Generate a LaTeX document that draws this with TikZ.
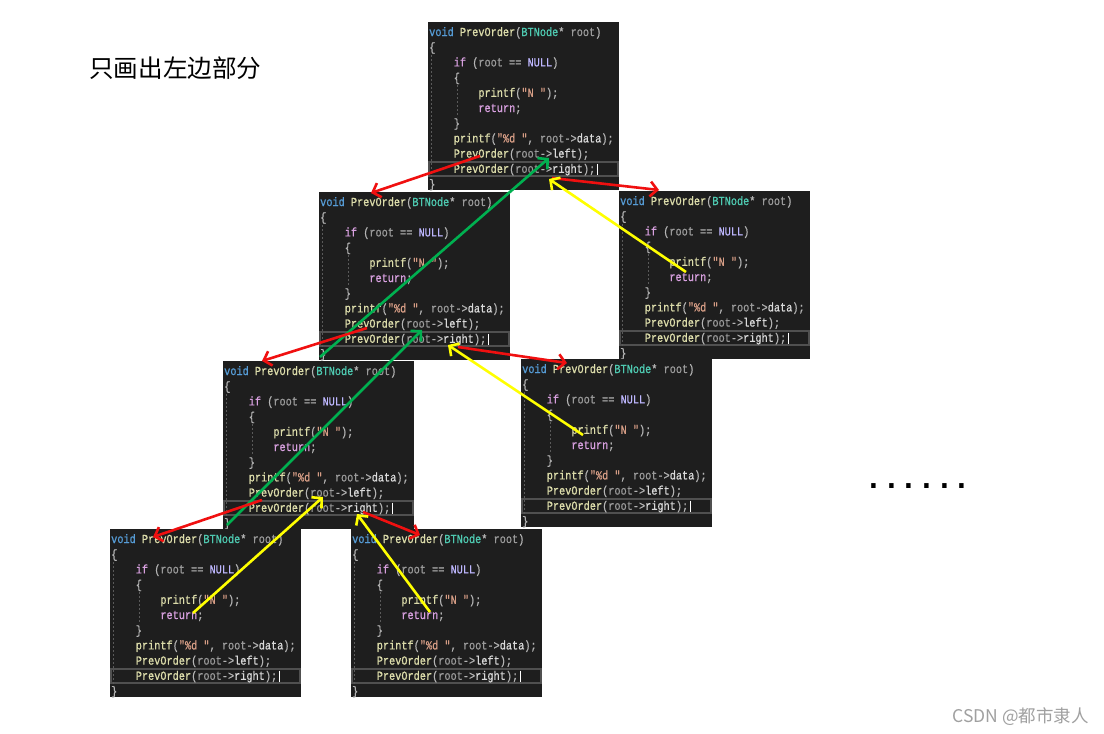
\documentclass[tikz,border=0pt]{standalone}
\usepackage{fontspec}
\usetikzlibrary{arrows.meta}
\newfontfamily\codefont[FakeStretch=0.833,FakeBold=0.8,Ligatures=TeXOff]{Liberation Mono}
\newfontfamily\cjkfont{Noto Sans CJK SC}
\newfontfamily\dotfont{Liberation Sans}
\definecolor{codebg}{HTML}{1E1E1E}
\definecolor{ckw}{HTML}{569CD6}
\definecolor{cfn}{HTML}{DCDCAA}
\definecolor{cty}{HTML}{4EC9B0}
\definecolor{cpu}{HTML}{B4B4B4}
\definecolor{cpa}{HTML}{9A9A9A}
\definecolor{ckc}{HTML}{D8A0DF}
\definecolor{cmc}{HTML}{BEB7FF}
\definecolor{cst}{HTML}{D69D85}
\definecolor{cme}{HTML}{DADADA}
\definecolor{cguide}{HTML}{5A5A5A}
\definecolor{chl}{HTML}{505050}
\definecolor{ared}{HTML}{F01010}
\definecolor{agreen}{HTML}{00B050}
\definecolor{ayellow}{HTML}{FFFF00}
\definecolor{wmark}{HTML}{A0A0A0}
\newcommand\kw[1]{\textcolor{ckw}{#1}}
\newcommand\fn[1]{\textcolor{cfn}{#1}}
\newcommand\ty[1]{\textcolor{cty}{#1}}
\newcommand\pu[1]{\textcolor{cpu}{#1}}
\newcommand\pa[1]{\textcolor{cpa}{#1}}
\newcommand\kc[1]{\textcolor{ckc}{#1}}
\newcommand\mc[1]{\textcolor{cmc}{#1}}
\newcommand\st[1]{\textcolor{cst}{#1}}
\newcommand\mem[1]{\textcolor{cme}{#1}}
\tikzset{
  codetxt/.style={anchor=base west, inner sep=0pt, font=\codefont\fontsize{12.3}{14}\selectfont},
  guide/.style={cguide, line width=0.8pt, dash pattern=on 2pt off 2pt},
  callarrow/.style={ared, line width=2.6pt, -{Straight Barb[length=7pt,width=15pt]}},
  retarrow/.style={ayellow, line width=2.6pt, -{Straight Barb[length=7pt,width=15pt]}},
  uparrow/.style={agreen, line width=2.6pt, -{Straight Barb[length=7pt,width=15pt]}},
}
\newcommand\cl[4]{\node[codetxt] (#1) at ({1+#2*6.15},{14+#3*15.2}) {#4};}
\newcommand\codebox[3]{%
\begin{scope}[shift={(#2,#3)}]
\fill[codebg] (0,0) rectangle (191,168);
\draw[chl, line width=1.2pt] (1,140) rectangle (190,154);
\draw[guide] (3.5,33) -- (3.5,156);
\draw[guide] (29,63) -- (29,95);
\cl{#1-r0}{0}{0}{\kw{void} \fn{PrevOrder}\pu{(}\ty{BTNode}\pu{*} \pa{root}\pu{)}}
\cl{#1-r1}{0}{1}{\pu{\{}}
\cl{#1-r2}{4}{2}{\kc{if} \pu{(}\pa{root} \pu{==} \mc{NULL}\pu{)}}
\cl{#1-r3}{4}{3}{\pu{\{}}
\cl{#1-r4}{8}{4}{\fn{printf}\pu{(}\st{"N "}\pu{);}}
\cl{#1-r5}{8}{5}{\kc{return}\pu{;}}
\cl{#1-r6}{4}{6}{\pu{\}}}
\cl{#1-r7}{4}{7}{\fn{printf}\pu{(}\st{"\%d "}\pu{,} \pa{root}\pu{->}\mem{data}\pu{);}}
\cl{#1-r8}{4}{8}{\fn{PrevOrder}\pu{(}\pa{root}\pu{->}\mem{left}\pu{);}}
\cl{#1-r9}{4}{9}{\fn{PrevOrder}\pu{(}\pa{root}\pu{->}\mem{right}\pu{);}}
\cl{#1-r10}{0}{10}{\pu{\}}}
\draw[white, line width=0.8pt] (169.5,141.5) -- (169.5,153);
\end{scope}}
\begin{document}
\begin{tikzpicture}[x=1pt,y=-1pt]
\fill[white] (0,0) rectangle (1104,734);
\useasboundingbox (0,0) rectangle (1104,734);
\node[anchor=base west, inner sep=0pt, font=\cjkfont\fontsize{24.6}{28}\selectfont] (title) at (89,77) {只画出左边部分};
\codebox{A}{428}{22}
\codebox{B}{319}{192}
\codebox{C}{619}{191}
\codebox{D}{223}{361}
\codebox{E}{521}{359}
\codebox{F}{110}{529}
\codebox{G}{351}{529}
\node[anchor=base west, inner sep=0pt, font=\dotfont\fontsize{46}{50}\selectfont] (dots) at (867.5,488.5) {.\hspace{4.8pt}.\hspace{4.8pt}.\hspace{4.8pt}.\hspace{4.8pt}.\hspace{4.8pt}.};
\node[anchor=base east, inner sep=0pt, text=wmark, font=\cjkfont\fontsize{17.5}{20}\selectfont] (wm) at (1089,722) {CSDN @都市隶人};
% connector end points
\coordinate (A-callL) at (480,156);
\coordinate (B-in) at (371,193);
\coordinate (A-callR) at (552,178);
\coordinate (C-in) at (659,190);
\coordinate (C-ret) at (686,272);
\coordinate (A-backR) at (549,179);
\coordinate (B-end) at (320,357);
\coordinate (A-backL) at (549,158);
\coordinate (B-callL) at (367,328);
\coordinate (D-in) at (262,361);
\coordinate (B-callR) at (458,347);
\coordinate (E-in) at (567,363);
\coordinate (E-ret) at (583,435);
\coordinate (B-backR) at (448,345);
\coordinate (D-end) at (227,525);
\coordinate (B-backL) at (422,330);
\coordinate (D-callL) at (262,500);
\coordinate (F-in) at (153,537);
\coordinate (D-callR) at (363,512);
\coordinate (G-in) at (420,535);
\coordinate (F-ret) at (193,613);
\coordinate (D-backL) at (323,497);
\coordinate (G-ret) at (430,612);
\coordinate (D-backR) at (357,514);
% connectors
\draw[callarrow] (A-callL) -- (B-in);
\draw[callarrow] (A-callR) -- (C-in);
\draw[retarrow] (C-ret) -- (A-backR);
\draw[uparrow] (B-end) -- (A-backL);
\draw[callarrow] (B-callL) -- (D-in);
\draw[callarrow] (B-callR) -- (E-in);
\draw[retarrow] (E-ret) -- (B-backR);
\draw[uparrow] (D-end) -- (B-backL);
\draw[callarrow] (D-callL) -- (F-in);
\draw[callarrow] (D-callR) -- (G-in);
\draw[retarrow] (F-ret) -- (D-backL);
\draw[retarrow] (G-ret) -- (D-backR);
\end{tikzpicture}
\end{document}
